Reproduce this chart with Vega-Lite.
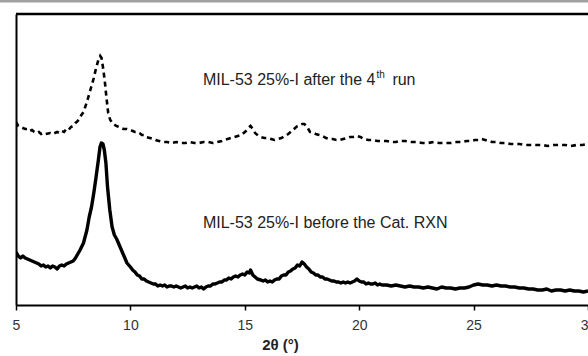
{
  "$schema": "https://vega.github.io/schema/vega-lite/v6.json",
  "width": 572,
  "height": 291,
  "autosize": {"type": "none"},
  "padding": {"left": 16, "top": 14, "right": 0, "bottom": 51},
  "background": "white",
  "config": {
    "view": {"stroke": "#888888", "strokeWidth": 1},
    "font": "Liberation Sans"
  },
  "datasets": {
    "before": [
      {"t":5.0,"i":53},{"t":5.1,"i":49},{"t":5.2,"i":47},{"t":5.3,"i":49},{"t":5.4,"i":47},{"t":5.5,"i":46},{"t":5.6,"i":45},{"t":5.7,"i":44},{"t":5.8,"i":43},{"t":5.9,"i":42},{"t":6.0,"i":41},{"t":6.1,"i":39},{"t":6.2,"i":40},{"t":6.3,"i":38},{"t":6.4,"i":39},{"t":6.5,"i":37},{"t":6.6,"i":39},{"t":6.7,"i":38},{"t":6.8,"i":36},{"t":6.9,"i":39},{"t":7.0,"i":40},{"t":7.1,"i":39},{"t":7.2,"i":41},{"t":7.3,"i":42},{"t":7.4,"i":43},{"t":7.5,"i":44},{"t":7.6,"i":47},{"t":7.7,"i":51},{"t":7.8,"i":55},{"t":7.95,"i":62},{"t":8.1,"i":75},{"t":8.2,"i":88},{"t":8.3,"i":98},{"t":8.4,"i":112},{"t":8.5,"i":128},{"t":8.6,"i":145},{"t":8.67,"i":158},{"t":8.73,"i":162},{"t":8.8,"i":161},{"t":8.86,"i":155},{"t":8.93,"i":142},{"t":9.0,"i":118},{"t":9.1,"i":95},{"t":9.2,"i":78},{"t":9.3,"i":70},{"t":9.4,"i":66},{"t":9.55,"i":58},{"t":9.7,"i":50},{"t":9.85,"i":42},
      {"t":10.0,"i":38},{"t":10.1,"i":35},{"t":10.2,"i":33},{"t":10.3,"i":30},{"t":10.4,"i":29},{"t":10.5,"i":26},{"t":10.6,"i":26},{"t":10.7,"i":24},{"t":10.8,"i":23},{"t":10.9,"i":22},{"t":11.0,"i":21},{"t":11.1,"i":21},{"t":11.2,"i":19},{"t":11.3,"i":20},{"t":11.4,"i":19},{"t":11.5,"i":20},{"t":11.6,"i":18},{"t":11.7,"i":19},{"t":11.8,"i":19},{"t":11.9,"i":18},{"t":12.0,"i":19},{"t":12.1,"i":18},{"t":12.2,"i":17},{"t":12.3,"i":18},{"t":12.4,"i":19},{"t":12.5,"i":17},{"t":12.6,"i":18},{"t":12.7,"i":17},{"t":12.8,"i":18},{"t":12.9,"i":19},{"t":13.0,"i":17},{"t":13.1,"i":18},{"t":13.2,"i":16},{"t":13.3,"i":18},{"t":13.4,"i":19},{"t":13.5,"i":19},{"t":13.6,"i":21},{"t":13.7,"i":21},{"t":13.8,"i":22},{"t":13.9,"i":23},{"t":14.0,"i":23},{"t":14.1,"i":25},{"t":14.2,"i":25},{"t":14.3,"i":27},{"t":14.4,"i":26},{"t":14.5,"i":28},{"t":14.6,"i":29},{"t":14.7,"i":28},{"t":14.8,"i":30},{"t":14.9,"i":31},{"t":15.0,"i":30},{"t":15.1,"i":33},{"t":15.2,"i":32},{"t":15.25,"i":35},{"t":15.35,"i":30},{"t":15.45,"i":28},{"t":15.55,"i":26},{"t":15.7,"i":25},{"t":15.8,"i":24},{"t":15.9,"i":25},{"t":16.0,"i":23},{"t":16.1,"i":24},{"t":16.2,"i":23},{"t":16.3,"i":25},{"t":16.4,"i":26},{"t":16.5,"i":26},{"t":16.6,"i":29},{"t":16.7,"i":30},{"t":16.8,"i":30},{"t":16.9,"i":33},{"t":17.0,"i":34},{"t":17.1,"i":36},{"t":17.2,"i":37},{"t":17.3,"i":40},{"t":17.4,"i":39},{"t":17.5,"i":43},{"t":17.6,"i":41},{"t":17.7,"i":38},{"t":17.8,"i":36},{"t":17.9,"i":33},{"t":18.0,"i":32},{"t":18.1,"i":30},{"t":18.2,"i":30},{"t":18.3,"i":28},{"t":18.4,"i":28},{"t":18.5,"i":26},{"t":18.6,"i":26},{"t":18.7,"i":25},{"t":18.8,"i":24},{"t":18.9,"i":24},{"t":19.0,"i":23},{"t":19.1,"i":23},{"t":19.2,"i":22},{"t":19.3,"i":23},{"t":19.4,"i":22},{"t":19.5,"i":23},{"t":19.6,"i":22},{"t":19.7,"i":23},{"t":19.8,"i":24},{"t":19.9,"i":26},{"t":20.0,"i":24},{"t":20.1,"i":23},{"t":20.2,"i":23},{"t":20.3,"i":21},{"t":20.4,"i":22},{"t":20.5,"i":21},{"t":20.6,"i":21},{"t":20.7,"i":22},{"t":20.8,"i":20},{"t":20.9,"i":21},{"t":21.0,"i":20},{"t":21.2,"i":20},{"t":21.4,"i":19},{"t":21.6,"i":20},{"t":21.8,"i":19},{"t":22.0,"i":18},{"t":22.2,"i":19},{"t":22.4,"i":18},{"t":22.6,"i":18},{"t":22.8,"i":17},{"t":23.0,"i":18},{"t":23.2,"i":17},{"t":23.4,"i":16},{"t":23.6,"i":18},{"t":23.8,"i":17},{"t":24.0,"i":17},{"t":24.2,"i":16},{"t":24.4,"i":17},{"t":24.6,"i":17},{"t":24.8,"i":18},{"t":25.0,"i":20},{"t":25.2,"i":21},{"t":25.4,"i":20},{"t":25.6,"i":20},{"t":25.8,"i":19},{"t":26.0,"i":20},{"t":26.2,"i":19},{"t":26.4,"i":19},{"t":26.6,"i":18},{"t":26.8,"i":18},{"t":27.0,"i":17},{"t":27.2,"i":17},{"t":27.4,"i":16},{"t":27.6,"i":16},{"t":27.8,"i":15},{"t":28.0,"i":15},{"t":28.2,"i":16},{"t":28.4,"i":14},{"t":28.6,"i":15},{"t":28.8,"i":15},{"t":29.0,"i":14},{"t":29.2,"i":15},{"t":29.4,"i":14},{"t":29.6,"i":14},{"t":29.8,"i":13},{"t":30.0,"i":14}
    ],
    "after": [
      {"t":5.0,"i":183},{"t":5.1,"i":179},{"t":5.2,"i":178},{"t":5.3,"i":177},{"t":5.4,"i":176},{"t":5.5,"i":176},{"t":5.6,"i":174},{"t":5.7,"i":175},{"t":5.8,"i":173},{"t":5.9,"i":172},{"t":6.0,"i":173},{"t":6.1,"i":171},{"t":6.2,"i":172},{"t":6.3,"i":171},{"t":6.5,"i":172},{"t":6.6,"i":171},{"t":6.8,"i":173},{"t":6.9,"i":172},{"t":7.0,"i":174},{"t":7.1,"i":173},{"t":7.2,"i":176},{"t":7.3,"i":175},{"t":7.4,"i":178},{"t":7.5,"i":179},{"t":7.6,"i":182},{"t":7.7,"i":184},{"t":7.8,"i":188},{"t":7.95,"i":193},{"t":8.1,"i":203},{"t":8.25,"i":215},{"t":8.4,"i":227},{"t":8.5,"i":237},{"t":8.6,"i":245},{"t":8.68,"i":249},{"t":8.74,"i":247},{"t":8.8,"i":238},{"t":8.88,"i":224},{"t":8.96,"i":206},{"t":9.03,"i":192},{"t":9.12,"i":185},{"t":9.25,"i":181},{"t":9.4,"i":179},{"t":9.5,"i":178},{"t":9.6,"i":177},{"t":9.7,"i":176},{"t":9.85,"i":176},{"t":10.0,"i":175},{"t":10.1,"i":174},{"t":10.2,"i":173},{"t":10.3,"i":173},{"t":10.4,"i":172},{"t":10.5,"i":170},{"t":10.6,"i":170},{"t":10.7,"i":168},{"t":10.85,"i":167},{"t":11.0,"i":166},{"t":11.1,"i":165},{"t":11.25,"i":164},{"t":11.4,"i":163},{"t":11.6,"i":163},{"t":11.8,"i":162},{"t":12.0,"i":163},{"t":12.2,"i":162},{"t":12.4,"i":162},{"t":12.6,"i":163},{"t":12.8,"i":162},{"t":13.0,"i":162},{"t":13.2,"i":163},{"t":13.4,"i":163},{"t":13.6,"i":162},{"t":13.8,"i":163},{"t":14.0,"i":164},{"t":14.1,"i":165},{"t":14.25,"i":166},{"t":14.4,"i":167},{"t":14.55,"i":168},{"t":14.7,"i":169},{"t":14.85,"i":170},{"t":14.95,"i":172},{"t":15.05,"i":174},{"t":15.15,"i":177},{"t":15.25,"i":179},{"t":15.35,"i":176},{"t":15.45,"i":172},{"t":15.6,"i":169},{"t":15.7,"i":168},{"t":15.85,"i":167},{"t":16.0,"i":167},{"t":16.15,"i":166},{"t":16.3,"i":165},{"t":16.45,"i":166},{"t":16.6,"i":167},{"t":16.75,"i":169},{"t":16.9,"i":171},{"t":17.0,"i":173},{"t":17.1,"i":175},{"t":17.2,"i":177},{"t":17.3,"i":179},{"t":17.4,"i":180},{"t":17.5,"i":181},{"t":17.6,"i":181},{"t":17.7,"i":179},{"t":17.85,"i":173},{"t":18.0,"i":172},{"t":18.1,"i":171},{"t":18.25,"i":170},{"t":18.4,"i":169},{"t":18.55,"i":167},{"t":18.7,"i":166},{"t":18.85,"i":166},{"t":19.0,"i":165},{"t":19.15,"i":165},{"t":19.3,"i":166},{"t":19.45,"i":167},{"t":19.6,"i":168},{"t":19.75,"i":168},{"t":19.9,"i":169},{"t":20.05,"i":168},{"t":20.2,"i":166},{"t":20.4,"i":165},{"t":20.6,"i":165},{"t":20.8,"i":164},{"t":21.0,"i":164},{"t":21.2,"i":164},{"t":21.4,"i":163},{"t":21.6,"i":163},{"t":21.8,"i":164},{"t":22.0,"i":164},{"t":22.25,"i":163},{"t":22.5,"i":163},{"t":22.75,"i":162},{"t":23.0,"i":162},{"t":23.25,"i":163},{"t":23.5,"i":162},{"t":23.75,"i":162},{"t":24.0,"i":162},{"t":24.25,"i":163},{"t":24.5,"i":163},{"t":24.7,"i":164},{"t":24.9,"i":164},{"t":25.05,"i":165},{"t":25.2,"i":165},{"t":25.35,"i":166},{"t":25.5,"i":165},{"t":25.65,"i":164},{"t":25.8,"i":163},{"t":26.0,"i":163},{"t":26.2,"i":162},{"t":26.4,"i":162},{"t":26.6,"i":161},{"t":26.8,"i":161},{"t":27.0,"i":161},{"t":27.25,"i":160},{"t":27.5,"i":160},{"t":27.75,"i":160},{"t":28.0,"i":160},{"t":28.25,"i":159},{"t":28.5,"i":160},{"t":28.75,"i":160},{"t":29.0,"i":160},{"t":29.25,"i":159},{"t":29.5,"i":160},{"t":29.75,"i":160},{"t":30.0,"i":161}
    ],
    "labels": [
      {"t":13.17,"i":225,"txt":"MIL-53 25%-I after the 4","size":16},
      {"t":20.76,"i":230,"txt":"th","size":10},
      {"t":21.45,"i":225,"txt":"run","size":16},
      {"t":13.17,"i":82,"txt":"MIL-53 25%-I before the Cat. RXN","size":16}
    ]
  },
  "encoding": {
    "x": {
      "field": "t", "type": "quantitative",
      "scale": {"domain": [5, 30], "nice": false, "zero": false},
      "axis": {
        "title": "2θ (°)", "titleFont": "Liberation Sans", "titleFontSize": 15, "titleFontWeight": "bold", "titleColor": "#222222", "titlePadding": 5, "titleX": 264,
        "values": [5, 10, 15, 20, 25, 30], "format": "d",
        "labelFont": "Liberation Sans", "labelFontSize": 14, "labelColor": "#333333", "labelPadding": 8, "labelOverlap": false, "labelFlush": false, "labelBound": false,
        "domainColor": "#000000", "domainWidth": 2, "tickColor": "#000000", "tickWidth": 1.5, "tickSize": 5, "grid": false
      }
    },
    "y": {
      "field": "i", "type": "quantitative",
      "scale": {"domain": [0, 291], "nice": false},
      "axis": {"title": null, "labels": false, "ticks": false, "grid": false, "domainColor": "#000000", "domainWidth": 2}
    }
  },
  "layer": [
    {
      "data": {"values": [{"t": 5, "i": 291}, {"t": 30, "i": 291}]},
      "mark": {"type": "line", "color": "#000000", "strokeWidth": 2.5, "clip": false}
    },
    {
      "data": {"values": [{"t": 4.3, "i": 304}, {"t": 30.5, "i": 304}]},
      "mark": {"type": "line", "color": "#a0a0a0", "strokeWidth": 3, "clip": false}
    },
    {
      "data": {"name": "before"},
      "mark": {"type": "line", "color": "#000000", "strokeWidth": 3.4, "strokeJoin": "round", "clip": true}
    },
    {
      "data": {"name": "after"},
      "mark": {"type": "line", "color": "#000000", "strokeWidth": 2.6, "strokeDash": [5, 4], "clip": true}
    },
    {
      "data": {"name": "labels"},
      "mark": {"type": "text", "align": "left", "baseline": "middle", "color": "#222222", "font": "Liberation Sans"},
      "encoding": {
        "text": {"field": "txt"},
        "size": {"field": "size", "type": "quantitative", "scale": null}
      }
    }
  ]
}
